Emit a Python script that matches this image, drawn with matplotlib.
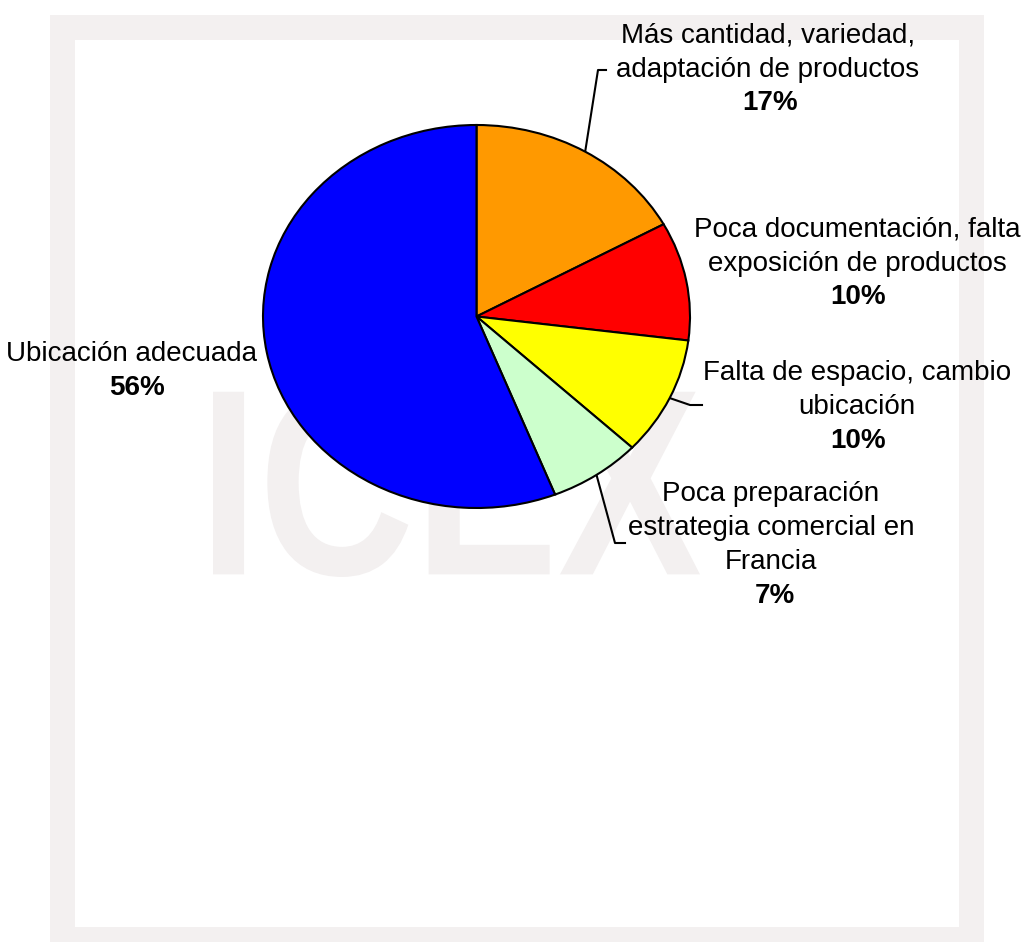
import matplotlib
matplotlib.use("Agg")
import numpy as np
import matplotlib.pyplot as plt
from matplotlib.patches import Rectangle, PathPatch
from matplotlib.textpath import TextPath
from matplotlib.font_manager import FontProperties
from matplotlib.transforms import Affine2D

plt.rcParams['font.family'] = ['Liberation Sans', 'DejaVu Sans']

#### DATOS ####

categorias = ["Más cantidad, variedad,\nadaptación de productos",
              "Poca documentación, falta\nexposición de productos",
              "Falta de espacio, cambio\nubicación",
              "Poca preparación\nestrategia comercial en\nFrancia",
              "Ubicación adecuada"]
porcentajes = [17, 10, 10, 7, 56]
colores = ["#FF9900", "#FF0000", "#FFFF00", "#CCFFCC", "#0000FF"]

#### FIGURA ####

W, H = 1022, 942
fig = plt.figure(figsize=(W / 100, H / 100), dpi=100)

# fondo en pixeles: marco gris y marca de agua
bg = fig.add_axes([0, 0, 1, 1])
bg.set_xlim(0, W)
bg.set_ylim(H, 0)
bg.axis('off')
gris = "#F3F0F0"
bg.add_patch(Rectangle((50, 15), 934, 940, color=gris, lw=0))
bg.add_patch(Rectangle((75, 40), 884, 887, color='white', lw=0))

tp = TextPath((0, 0), "ICEX", size=100,
              prop=FontProperties(family='Liberation Sans', weight='bold'))
ext = tp.get_extents()
tr = (Affine2D().translate(-ext.x0, -ext.y0)
      .scale((700 - 213) / ext.width, -(577 - 389) / ext.height)
      .translate(213, 577))
bg.add_patch(PathPatch(tr.transform_path(tp), color=gris, lw=0))

# tarta (eliptica)
ax = fig.add_axes([263 / W, (H - 508) / H, 427 / W, 383 / H])
wedges, _ = ax.pie(porcentajes, colors=colores, startangle=90, counterclock=False,
                   wedgeprops=dict(edgecolor='black', linewidth=1.5))
ax.set_aspect('auto')
ax.set_xlim(-1, 1)
ax.set_ylim(-1, 1)

# etiquetas
pos_nombre = [(768, 53), (857, 247), (857, 390), (771, 528), (132, 354)]
pos_pct = [(770, 103), (858, 297), (858, 441), (775, 596), (137, 388)]
codos = {0: [(598, 70), (606, 70)], 2: [(690, 405), (702, 405)], 3: [(615, 543), (625, 543)]}

acum = np.cumsum([0] + porcentajes)
to_bg = bg.transData.inverted()
for i, (nombre, p) in enumerate(zip(categorias, porcentajes)):
    bg.text(pos_nombre[i][0], pos_nombre[i][1], nombre, ha='center', va='center',
            fontsize=20, linespacing=1.4)
    bg.text(pos_pct[i][0], pos_pct[i][1], f"{p}%", ha='center', va='center',
            fontsize=20, fontweight='bold')
    if i in codos:
        ang = np.deg2rad(90 - 3.6 * (acum[i] + acum[i + 1]) / 2)
        x0, y0 = to_bg.transform(ax.transData.transform((np.cos(ang), np.sin(ang))))
        xs = [x0] + [c[0] for c in codos[i]]
        ys = [y0] + [c[1] for c in codos[i]]
        bg.plot(xs, ys, color='black', lw=1.5)

fig.savefig("out.png", dpi=100)
